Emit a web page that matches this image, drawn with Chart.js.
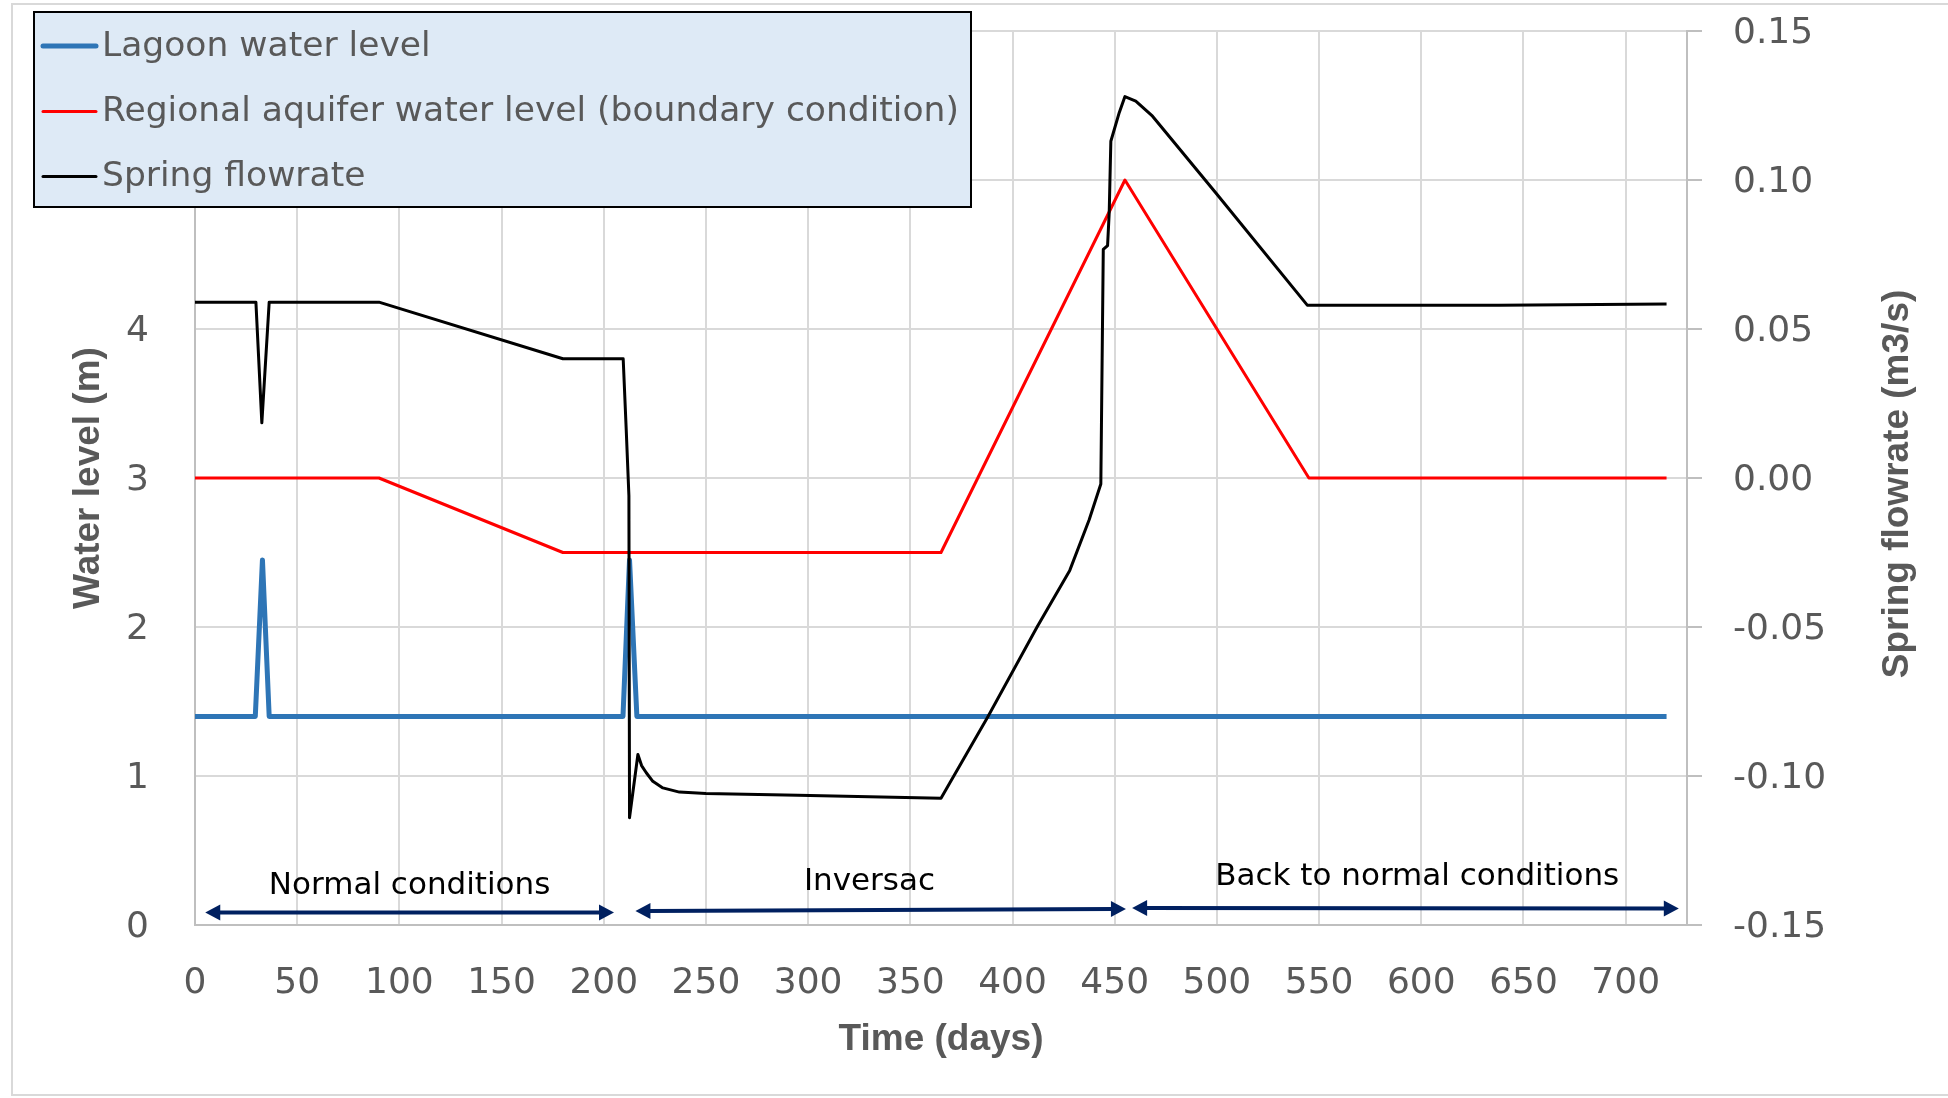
<!DOCTYPE html>
<html>
<head>
<meta charset="utf-8">
<script src="https://cdn.jsdelivr.net/npm/chart.js@4.4.1/dist/chart.umd.min.js"></script>
<style>
    html, body { margin: 0; padding: 0; background: #ffffff; }
    #wrap { width: 1948px; height: 1098px; position: relative; }
</style>
</head>
<body>
<div id="wrap"><canvas id="springChart"></canvas></div>
<script>
// Lagoon water level (m, left axis)
const lagoonDays = [0, 29.5, 33, 36.3, 209.4, 212.6, 216.2, 720];
const lagoonLevel = [1.4, 1.4, 2.45, 1.4, 1.4, 2.45, 1.4, 1.4];

// Regional aquifer water level (m, left axis)
const aquiferDays = [0, 90, 180, 365, 455, 545, 720];
const aquiferLevel = [3, 3, 2.5, 2.5, 5, 3, 3];

// Spring flowrate (m3/s, right axis)
const springDays = [0, 29.8, 32.7, 36.3, 90, 180, 209.5, 211, 212.3, 212.6, 216.7, 218.5, 220.8, 224, 228.9, 237, 250, 295, 365,
    388, 412, 428, 437.5, 443.2, 444.4, 446.5, 447.3, 448.1, 452.2, 455, 460.3, 468.5, 499.4, 544.2, 638, 720];
const springFlow = [0.059, 0.059, 0.0185, 0.059, 0.059, 0.040, 0.040, 0.016, -0.006, -0.114, -0.0928, -0.0965, -0.0989, -0.1018, -0.104, -0.1054, -0.1059, -0.1065, -0.1075,
    -0.080, -0.050, -0.031, -0.014, -0.002, 0.0767, 0.078, 0.089, 0.113, 0.1226, 0.128, 0.1265, 0.1214, 0.0957, 0.058, 0.058, 0.0584];

// Phases shown under the curves (days)
const phaseNames = ["Normal conditions", "Inversac", "Back to normal conditions"];
const phaseStart = [5, 215.5, 458.5];
const phaseEnd = [205, 455.5, 726];

const seriesNames = ["Lagoon water level", "Regional aquifer water level (boundary condition)", "Spring flowrate"];

function toPoints(xs, ys) {
    return xs.map((x, i) => ({ x: x, y: ys[i] }));
}

const tickFont = { family: "'DejaVu Sans', sans-serif", size: 36 };
const titleFont = { family: "'Liberation Sans', Arial, sans-serif", size: 37, weight: "bold" };
const textGrey = "#595959";

// Page frame + right axis title (Excel style, reads bottom to top)
const framePlugin = {
    id: "frame",
    beforeDraw(chart) {
        const ctx = chart.ctx;
        ctx.save();
        ctx.fillStyle = "#ffffff";
        ctx.fillRect(0, 0, chart.width, chart.height);
        ctx.strokeStyle = "#D9D9D9";
        ctx.lineWidth = 2;
        ctx.strokeRect(12, 4, chart.width + 20, chart.height - 7);
        ctx.restore();
    },
    afterDraw(chart) {
        const ctx = chart.ctx;
        const area = chart.chartArea;
        ctx.save();
        ctx.translate(1898, (area.top + area.bottom) / 2 + 6);
        ctx.rotate(-Math.PI / 2);
        ctx.font = "bold 37px 'Liberation Sans', Arial, sans-serif";
        ctx.fillStyle = textGrey;
        ctx.textAlign = "center";
        ctx.textBaseline = "middle";
        ctx.fillText("Spring flowrate (m3/s)", 0, 0);
        ctx.restore();
    }
};

// Arrows + phase labels
const phasePlugin = {
    id: "phases",
    afterDatasetsDraw(chart) {
        const ctx = chart.ctx;
        const xs = chart.scales.x;
        const ys = chart.scales.y;
        const arrowY0 = [0.084, 0.094, 0.114];
        const arrowY1 = [0.084, 0.107, 0.111];
        const labelX = [105, 330, 598];
        const labelY = [0.265, 0.29, 0.32];

        ctx.save();
        phaseNames.forEach((name, i) => {
            const x0 = xs.getPixelForValue(phaseStart[i]);
            const x1 = xs.getPixelForValue(phaseEnd[i]);
            const y0 = ys.getPixelForValue(arrowY0[i]);
            const y1 = ys.getPixelForValue(arrowY1[i]);
            const head = 15;

            ctx.strokeStyle = "#002060";
            ctx.fillStyle = "#002060";
            ctx.lineWidth = 4;
            ctx.beginPath();
            ctx.moveTo(x0 + head - 2, y0);
            ctx.lineTo(x1 - head + 2, y1);
            ctx.stroke();

            ctx.beginPath();
            ctx.moveTo(x0, y0);
            ctx.lineTo(x0 + head, y0 - 8);
            ctx.lineTo(x0 + head, y0 + 8);
            ctx.closePath();
            ctx.fill();

            ctx.beginPath();
            ctx.moveTo(x1, y1);
            ctx.lineTo(x1 - head, y1 - 8);
            ctx.lineTo(x1 - head, y1 + 8);
            ctx.closePath();
            ctx.fill();

            ctx.font = "31px 'DejaVu Sans', sans-serif";
            ctx.fillStyle = "#000000";
            ctx.textAlign = "center";
            ctx.textBaseline = "middle";
            ctx.fillText(name, xs.getPixelForValue(labelX[i]), ys.getPixelForValue(labelY[i]));
        });
        ctx.restore();
    }
};

// Boxed legend in the top-left corner
const boxLegendPlugin = {
    id: "boxLegend",
    afterDraw(chart) {
        const ctx = chart.ctx;
        const box = { left: 34, top: 12, right: 971, bottom: 207 };
        const rowY = [46, 111.5, 176.5];

        ctx.save();
        ctx.fillStyle = "#DEEAF6";
        ctx.fillRect(box.left, box.top, box.right - box.left, box.bottom - box.top);
        ctx.strokeStyle = "#000000";
        ctx.lineWidth = 2;
        ctx.strokeRect(box.left, box.top, box.right - box.left, box.bottom - box.top);

        chart.data.datasets.forEach((ds, i) => {
            ctx.strokeStyle = ds.borderColor;
            ctx.lineWidth = ds.borderWidth;
            ctx.lineCap = "round";
            ctx.beginPath();
            ctx.moveTo(43, rowY[i]);
            ctx.lineTo(96, rowY[i]);
            ctx.stroke();

            ctx.font = "34.5px 'DejaVu Sans', sans-serif";
            ctx.fillStyle = textGrey;
            ctx.textAlign = "left";
            ctx.textBaseline = "middle";
            ctx.fillText(ds.label, 102, rowY[i] + 1);
        });
        ctx.restore();
    }
};

// fixed axis box sizes so the plot area lands where the original has it
function fixWidth(w) {
    return scale => {
        scale.width = w;
        scale.paddingTop = 0;
        scale.paddingBottom = 0;
    };
}

const ctx = document.getElementById("springChart").getContext("2d");

new Chart(ctx, {
    type: "line",
    data: {
        datasets: [
            {
                label: seriesNames[0],
                data: toPoints(lagoonDays, lagoonLevel),
                borderColor: "#2E75B6",
                borderWidth: 5,
                yAxisID: "y",
                order: 2
            },
            {
                label: seriesNames[1],
                data: toPoints(aquiferDays, aquiferLevel),
                borderColor: "#FF0000",
                borderWidth: 3,
                yAxisID: "y",
                order: 3
            },
            {
                label: seriesNames[2],
                data: toPoints(springDays, springFlow),
                borderColor: "#000000",
                borderWidth: 3,
                yAxisID: "y2",
                order: 1
            }
        ]
    },
    options: {
        responsive: true,
        maintainAspectRatio: false,
        animation: false,
        elements: {
            point: { radius: 0 },
            line: { tension: 0, fill: false, borderJoinStyle: "round" }
        },
        layout: { autoPadding: false, padding: { top: 31, left: 0, right: 0, bottom: 0 } },
        plugins: {
            legend: { display: false },
            tooltip: { enabled: false }
        },
        scales: {
            x: {
                type: "linear",
                min: 0,
                max: 730,
                ticks: {
                    stepSize: 50,
                    includeBounds: false,
                    font: tickFont,
                    color: textGrey,
                    padding: 37,
                    maxRotation: 0
                },
                grid: { color: "#D9D9D9", lineWidth: 2, drawTicks: false },
                border: { color: "#BFBFBF", width: 2 },
                title: {
                    display: true,
                    text: "Time (days)",
                    font: titleFont,
                    color: textGrey,
                    padding: { top: 0, bottom: 36 }
                },
                afterFit(scale) { scale.height = 173; }
            },
            y: {
                position: "left",
                min: 0,
                max: 6,
                ticks: {
                    stepSize: 1,
                    font: tickFont,
                    color: textGrey,
                    padding: 46,
                    labelOffset: 3
                },
                grid: { color: "#D9D9D9", lineWidth: 2, drawTicks: false },
                border: { color: "#BFBFBF", width: 2 },
                title: {
                    display: true,
                    text: "Water level (m)",
                    font: titleFont,
                    color: textGrey,
                    padding: { top: 67, bottom: 0 }
                },
                afterFit: fixWidth(195)
            },
            y2: {
                position: "right",
                min: -0.15,
                max: 0.15,
                ticks: {
                    stepSize: 0.05,
                    font: tickFont,
                    color: textGrey,
                    padding: 31,
                    labelOffset: 3,
                    callback: v => (Math.abs(v) < 1e-9 ? 0 : v).toFixed(2)
                },
                grid: { drawOnChartArea: false, color: "#BFBFBF", lineWidth: 2, tickLength: 15 },
                border: { color: "#BFBFBF", width: 2 },
                afterFit: fixWidth(261)
            }
        }
    },
    plugins: [framePlugin, phasePlugin, boxLegendPlugin]
});
</script>
</body>
</html>
